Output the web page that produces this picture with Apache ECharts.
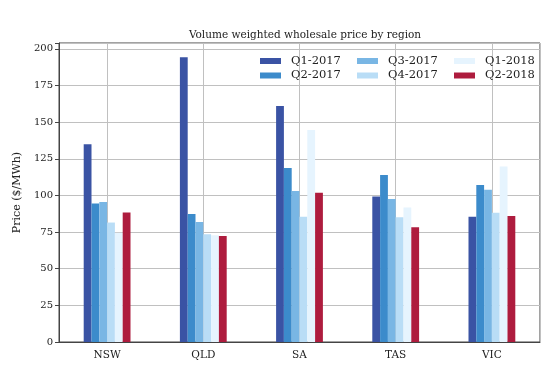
<!DOCTYPE html>
<html><head><meta charset="utf-8">
<script src="https://cdn.jsdelivr.net/npm/echarts@6/dist/echarts.min.js"></script>
<style>html,body{margin:0;padding:0;background:#fff}#c{width:556px;height:384px}</style>
</head><body><div id="c"></div>
<script>
const regions = ['NSW', 'QLD', 'SA', 'TAS', 'VIC'];
const seriesNames = ['Q1-2017', 'Q2-2017', 'Q3-2017', 'Q4-2017', 'Q1-2018', 'Q2-2018'];
const q1_2017 = [135, 194.3, 161, 99.2, 85.5];
const q2_2017 = [94.5, 87.4, 118.8, 114, 107.2];
const q3_2017 = [95.5, 81.9, 103, 97.6, 103.8];
const q4_2017 = [81.5, 73.5, 85.5, 85.1, 88.1];
const q1_2018 = [74.5, 72.8, 144.7, 91.7, 119.7];
const q2_2018 = [88.3, 72.4, 101.9, 78.3, 86];
const yTicks = [0, 25, 50, 75, 100, 125, 150, 175, 200];
const colors = ['#3a53a4', '#3c8bcb', '#79b6e4', '#b9ddf6', '#e6f4fe', '#ae1c3e'];
const values = [q1_2017, q2_2017, q3_2017, q4_2017, q1_2018, q2_2018];
const FONT = 'DejaVu Serif';

const halfBands = [];
regions.forEach(r => { halfBands.push(r + 'a'); halfBands.push(r + 'b'); });

const chart = echarts.init(document.getElementById('c'), null, {renderer: 'canvas'});
const legendBase = {
  orient: 'vertical', itemWidth: 21, itemHeight: 6, itemGap: 2.5, icon: 'rect',
  textStyle: {fontFamily: FONT, fontSize: 11.5, color: '#222', padding: [0, 0, 0, 5]}, selectedMode: false
};
chart.setOption({
  animation: false,
  textStyle: {fontFamily: FONT},
  title: {
    text: 'Volume weighted wholesale price by region', left: 300, top: 25, textAlign: 'center',
    textStyle: {fontFamily: FONT, fontSize: 10.5, fontWeight: 'normal', color: '#222'}
  },
  legend: [
    Object.assign({}, legendBase, {left: 255, top: 50, data: [seriesNames[0], seriesNames[1]]}),
    Object.assign({}, legendBase, {left: 352, top: 50, data: [seriesNames[2], seriesNames[3]]}),
    Object.assign({}, legendBase, {left: 449, top: 50, data: [seriesNames[4], seriesNames[5]]})
  ],
  grid: {left: 59, right: 16, top: 43, bottom: 42, show: true, borderColor: '#444', borderWidth: 1, backgroundColor: 'transparent'},
  xAxis: [
    {
      type: 'category', data: regions,
      axisLine: {lineStyle: {color: '#444'}},
      axisTick: {alignWithLabel: true, length: 4, lineStyle: {color: '#444'}},
      axisLabel: {fontFamily: FONT, fontSize: 10.5, color: '#222', margin: 8},
      splitLine: {show: false}
    },
    {
      type: 'category', data: halfBands, position: 'bottom',
      axisLine: {show: false}, axisTick: {show: false}, axisLabel: {show: false},
      splitLine: {show: true, interval: (i) => i % 2 === 1, lineStyle: {color: '#c0c0c0', width: 1}}
    }
  ],
  yAxis: {
    type: 'value', min: 0, max: 204, interval: 25,
    name: 'Price ($/MWh)', nameLocation: 'middle', nameGap: 29,
    nameTextStyle: {fontFamily: FONT, fontSize: 11, color: '#222'},
    axisLine: {show: true, lineStyle: {color: '#444'}},
    axisTick: {show: true, length: 4, lineStyle: {color: '#444'}},
    axisLabel: {fontFamily: FONT, fontSize: 10, color: '#222', margin: 6,
      formatter: v => (yTicks.indexOf(v) >= 0 ? String(v) : '')},
    splitLine: {show: true, lineStyle: {color: '#c0c0c0', width: 1}}
  },
  series: seriesNames.map((n, i) => ({
    name: n, type: 'bar', xAxisIndex: 0, data: values[i],
    barWidth: 7.8, barGap: '0%',
    itemStyle: {color: colors[i]}
  }))
});
</script></body></html>
